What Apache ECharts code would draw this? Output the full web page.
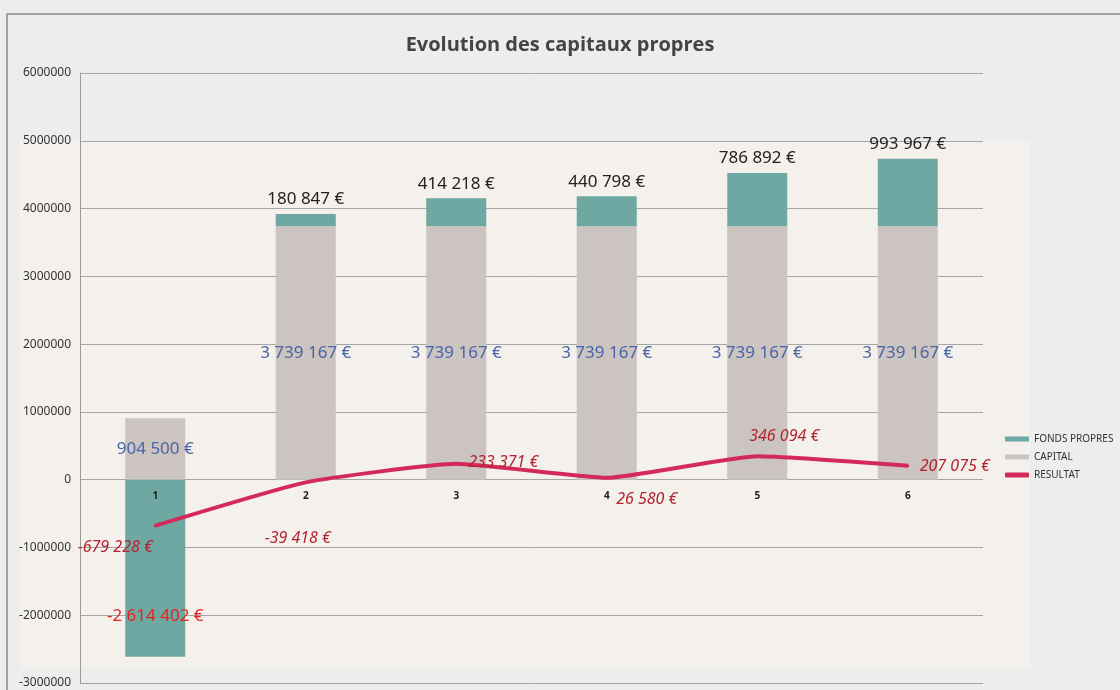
<!DOCTYPE html>
<html>
<head>
<meta charset="utf-8">
<script src="https://cdn.jsdelivr.net/npm/echarts@6/dist/echarts.min.js"></script>
<style>
  html, body {margin: 0; padding: 0; background: #ededed;}
  #chart {width: 1120px; height: 690px;}
</style>
</head>
<body>
<div id="chart"></div>
<script>
// donnees
var annees = ['1', '2', '3', '4', '5', '6'];
var capital = [904500, 3739167, 3739167, 3739167, 3739167, 3739167];
var fondsPropres = [-2614402, 180847, 414218, 440798, 786892, 993967];
var resultat = [-679228, -39418, 233371, 26580, 346094, 207075];
var yTicks = {min: -3000000, max: 6000000, step: 1000000};

// decalage des etiquettes de la courbe (px)
var lineLabelOffsets = [[-40, 22], [-8, 56], [47, -1], [40, 22], [27, -20], [47, 1]];

var euro = function (v) {
    var s = String(Math.abs(v)).replace(/\B(?=(\d{3})+(?!\d))/g, ' ');
    return (v < 0 ? '-' : '') + s + ' €';
};

var chart = echarts.init(document.getElementById('chart'));

var fpData = [];
for (var i = 0; i < fondsPropres.length; i++) {
    if (fondsPropres[i] < 0) {
        fpData.push({
            value: fondsPropres[i],
            label: {position: 'insideBottom', distance: 32, color: '#e5241d'}
        });
    } else {
        fpData.push(fondsPropres[i]);
    }
}

var resData = [];
for (var j = 0; j < resultat.length; j++) {
    resData.push({value: resultat[j], label: {offset: lineLabelOffsets[j]}});
}

var option = {
    backgroundColor: '#ededed',
    textStyle: {fontFamily: 'Noto Sans'},
    graphic: [
        {type: 'rect', z: -10, shape: {x: 20, y: 141, width: 1010, height: 527}, style: {fill: '#f4f0ec'}},
        {type: 'rect', z: -5, shape: {x: 7, y: 14, width: 1120, height: 700}, style: {fill: 'none', stroke: '#8a8a8a', lineWidth: 1.5}}
    ],
    title: {
        text: 'Evolution des capitaux propres',
        left: 'center', top: 30,
        textStyle: {fontFamily: 'Open Sans', fontWeight: 'bold', fontSize: 20, color: '#444'}
    },
    legend: {
        orient: 'vertical', left: 1000, top: 429,
        itemWidth: 24, itemHeight: 5, itemGap: 8,
        textStyle: {fontSize: 10, color: '#333'},
        data: [
            {name: 'FONDS PROPRES', icon: 'rect'},
            {name: 'CAPITAL', icon: 'rect'},
            {name: 'RESULTAT', icon: 'roundRect'}
        ]
    },
    grid: {left: 80, right: 137, top: 73, bottom: 7, containLabel: false, outerBoundsMode: 'none'},
    xAxis: {
        type: 'category',
        data: annees,
        // les libelles sont places a hauteur du zero
        offset: -204,
        z: 10,
        axisLine: {show: false, onZero: false},
        axisTick: {show: false},
        axisLabel: {fontSize: 10, fontWeight: 'bold', color: '#222', margin: 12}
    },
    yAxis: {
        type: 'value',
        min: yTicks.min, max: yTicks.max, interval: yTicks.step,
        axisLine: {show: true, lineStyle: {color: '#999'}},
        axisTick: {show: false},
        axisLabel: {fontSize: 12, color: '#333', margin: 9, formatter: function (v) { return String(v); }},
        splitLine: {lineStyle: {color: '#a5a5a5', width: 1}}
    },
    series: [
        {
            name: 'CAPITAL', type: 'bar', stack: 'cap', barWidth: 60,
            itemStyle: {color: '#cbc4c1'},
            label: {show: true, position: 'inside', fontSize: 17, color: '#4a64a8', formatter: function (p) { return euro(p.value); }},
            data: capital
        },
        {
            name: 'FONDS PROPRES', type: 'bar', stack: 'cap', barWidth: 60,
            itemStyle: {color: '#6fa8a2'},
            label: {show: true, position: 'top', distance: 6, fontSize: 17, color: '#222', formatter: function (p) { return euro(p.value); }},
            data: fpData
        },
        {
            name: 'RESULTAT', type: 'line', smooth: 0.15,
            symbol: 'circle', symbolSize: 3,
            lineStyle: {color: '#d42a5b', width: 4},
            itemStyle: {color: '#d42a5b'},
            label: {show: true, position: 'inside', fontSize: 16, fontStyle: 'italic', color: '#b3222f', formatter: function (p) { return euro(p.value); }},
            z: 5,
            data: resData
        }
    ]
};

chart.setOption(option);
</script>
</body>
</html>
